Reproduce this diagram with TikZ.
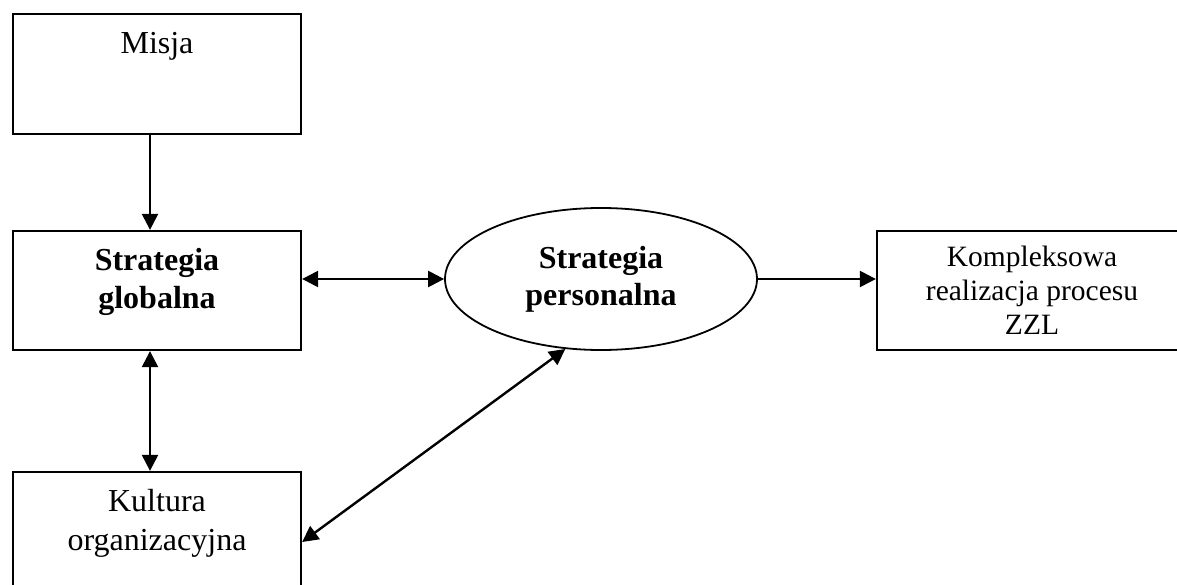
\documentclass[tikz,border=0pt]{standalone}
\usepackage{fontspec}
\setmainfont{Liberation Serif}
\usetikzlibrary{arrows.meta,shapes.geometric,calc}
\begin{document}
\begin{tikzpicture}[x=1pt,y=-1pt,
  box/.style={draw, line width=2.3pt, rectangle, inner sep=0pt},
  oval/.style={draw, line width=1.8pt, ellipse, inner sep=0pt, align=center,
    font=\fontsize{32}{37}\selectfont\bfseries},
  txt/.style={align=center, inner sep=0pt, font=\fontsize{32}{39}\selectfont},
  con/.style={line width=2.4pt, -{Triangle[length=16pt,width=16pt]}},
  bicon/.style={line width=2.4pt, {Triangle[length=16pt,width=16pt]}-{Triangle[length=16pt,width=16pt]}}]
\useasboundingbox (0,0) rectangle (1177,585);
% boxes
\node[box, minimum width=288pt, minimum height=120pt] (misja) at (157,74) {};
\node[txt] (misjaT) at (157,46.5) {Misja};
\node[box, minimum width=288pt, minimum height=119pt] (glob) at (157,290.5) {};
\node[txt, font=\fontsize{32}{38}\selectfont\bfseries] (globT) at (157,281.5) {Strategia\\globalna};
\node[box, minimum width=288pt, minimum height=128pt] (kult) at (157,536) {};
\node[txt] (kultT) at (157,523) {Kultura\\organizacyjna};
\node[oval, minimum width=312pt, minimum height=142pt] (pers) at (601,279) {Strategia\\personalna};
\node[box, txt, font=\fontsize{29.5}{34}\selectfont, minimum width=310pt, minimum height=119pt] (komp) at (1032,290.5) {Kompleksowa\\realizacja procesu\\ZZL};
% connectors
\coordinate (ax) at (150,0);
\draw[con] (misja.south -| ax) -- (glob.north -| ax);
\draw[bicon] (glob.south -| ax) -- (kult.north -| ax);
\draw[bicon] (glob.east |- pers.west) -- (pers.west);
\draw[con] (pers.east) -- (pers.east -| komp.west);
\draw[bicon] ($(kult.east)+(0,6)$) -- (pers.243);
\end{tikzpicture}
\end{document}
